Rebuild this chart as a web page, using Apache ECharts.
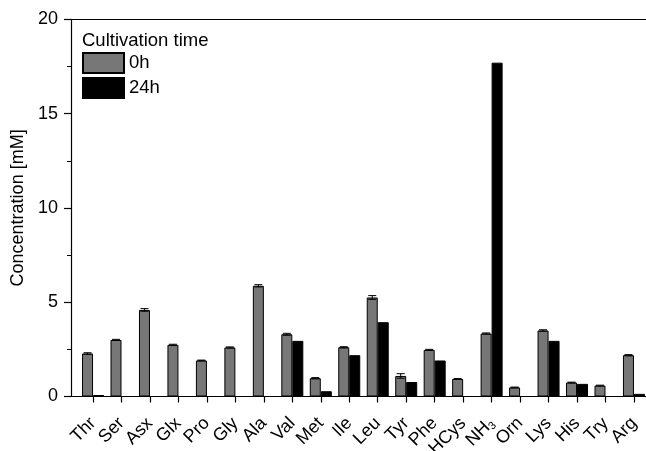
<!DOCTYPE html>
<html>
<head>
<meta charset="utf-8">
<script src="https://cdn.jsdelivr.net/npm/echarts@6/dist/echarts.min.js"></script>
<style>
  html, body { margin: 0; padding: 0; background: #fff; }
  #chart { width: 646px; height: 451px; }
</style>
</head>
<body>
<div id="chart"></div>
<script>
// Amino acid concentrations in the medium before and after 24 h cultivation
const categories = ['Thr', 'Ser', 'Asx', 'Glx', 'Pro', 'Gly', 'Ala', 'Val', 'Met', 'Ile',
                    'Leu', 'Tyr', 'Phe', 'HCys', 'NH3', 'Orn', 'Lys', 'His', 'Try', 'Arg'];
const values0h  = [2.28, 3.00, 4.59, 2.74, 1.91, 2.60, 5.87, 3.30, 0.97, 2.61,
                   5.25, 1.09, 2.47, 0.93, 3.34, 0.48, 3.50, 0.74, 0.58, 2.19];
const errors0h  = [0.04, 0.03, 0.07, 0.03, 0.02, 0.03, 0.06, 0.05, 0.03, 0.03,
                   0.10, 0.12, 0.03, 0.02, 0.03, 0.02, 0.04, 0.02, 0.02, 0.03];
const values24h = [0.08, null, null, null, null, null, null, 2.95, 0.28, 2.19,
                   3.94, 0.77, 1.91, null, 17.70, null, 2.95, 0.67, null, 0.14];
const yTicks = [0, 5, 10, 15, 20];

const FONT = "'Liberation Sans', Arial, sans-serif";
const BAR_W = 11;

const chart = echarts.init(document.getElementById('chart'));

const gridTop = 19.3, gridH = 377.2;

chart.setOption({
  animation: false,
  backgroundColor: '#fff',
  textStyle: { fontFamily: FONT, color: '#000' },
  title: {
    text: 'Cultivation time',
    left: 77, top: 26,
    textStyle: { fontFamily: FONT, fontSize: 18.5, fontWeight: 'normal', color: '#000' }
  },
  legend: {
    data: ['0h', '24h'],
    orient: 'vertical',
    left: 77, top: 47,
    itemWidth: 41, itemHeight: 20, itemGap: 3,
    icon: 'rect',
    textStyle: { fontFamily: FONT, fontSize: 18.5, color: '#000' }
  },
  grid: [
    // frame: y axis with ticks, bottom and top lines
    { left: 71, top: gridTop, width: 600, height: gridH, outerBoundsMode: 'none', containLabel: false },
    // data area
    { left: 78.8, top: gridTop, width: 28.47 * categories.length, height: gridH, outerBoundsMode: 'none', containLabel: false }
  ],
  xAxis: [
    { gridIndex: 0, type: 'value', min: 0, max: 1, position: 'bottom',
      axisLine: { show: true, lineStyle: { color: '#000', width: 1.2 } },
      axisTick: { show: false }, axisLabel: { show: false }, splitLine: { show: false } },
    { gridIndex: 0, type: 'value', min: 0, max: 1, position: 'top',
      axisLine: { show: true, lineStyle: { color: '#000', width: 1.2 } },
      axisTick: { show: false }, axisLabel: { show: false }, splitLine: { show: false } },
    { gridIndex: 1, type: 'category', data: categories, position: 'bottom',
      axisLine: { show: false },
      axisTick: { show: true, alignWithLabel: true, length: 6, lineStyle: { color: '#000', width: 1.2 } },
      axisLabel: {
        interval: 0, rotate: 45, margin: 24, fontSize: 18, color: '#000', fontFamily: FONT,
        formatter: v => v === 'NH3' ? 'NH{sub|3}' : v,
        rich: { sub: { fontSize: 11, verticalAlign: 'bottom', padding: [9, 0, 0, 0], fontFamily: FONT, color: '#000' } }
      },
      splitLine: { show: false } }
  ],
  yAxis: [
    { gridIndex: 0, type: 'value', min: yTicks[0], max: yTicks[yTicks.length - 1], interval: 5,
      name: 'Concentration [mM]', nameLocation: 'middle', nameGap: 42,
      nameTextStyle: { fontFamily: FONT, fontSize: 18, color: '#000' },
      axisLine: { show: true, lineStyle: { color: '#000', width: 1.2 } },
      axisTick: { show: true, length: 7, lineStyle: { color: '#000', width: 1.2 } },
      minorTick: { show: true, splitNumber: 2, length: 4, lineStyle: { color: '#000', width: 1 } },
      axisLabel: { fontSize: 18, color: '#000', margin: 13, fontFamily: FONT },
      splitLine: { show: false } },
    { gridIndex: 1, type: 'value', min: 0, max: 20, show: false }
  ],
  series: [
    { name: '0h', type: 'bar', xAxisIndex: 2, yAxisIndex: 1,
      data: values0h, barWidth: BAR_W, barGap: '0%',
      itemStyle: { color: '#777777', borderColor: '#000', borderWidth: 1 } },
    { name: '24h', type: 'bar', xAxisIndex: 2, yAxisIndex: 1,
      data: values24h, barWidth: BAR_W, barGap: '0%',
      itemStyle: { color: '#000000', borderColor: '#000', borderWidth: 1 } },
    { name: 'err0h', type: 'custom', xAxisIndex: 2, yAxisIndex: 1,
      data: values0h.map((v, i) => [i, v, errors0h[i]]),
      z: 5,
      renderItem: (params, api) => {
        const i = api.value(0), v = api.value(1), e = api.value(2);
        const hi = api.coord([i, v + e]);
        const lo = api.coord([i, v - e]);
        const x = hi[0] - BAR_W / 2;
        const cap = 4;
        const st = { stroke: '#000', lineWidth: 1 };
        return { type: 'group', children: [
          { type: 'line', shape: { x1: x, y1: hi[1], x2: x, y2: lo[1] }, style: st },
          { type: 'line', shape: { x1: x - cap, y1: hi[1], x2: x + cap, y2: hi[1] }, style: st },
          { type: 'line', shape: { x1: x - cap, y1: lo[1], x2: x + cap, y2: lo[1] }, style: st }
        ] };
      } }
  ]
});
</script>
</body>
</html>
